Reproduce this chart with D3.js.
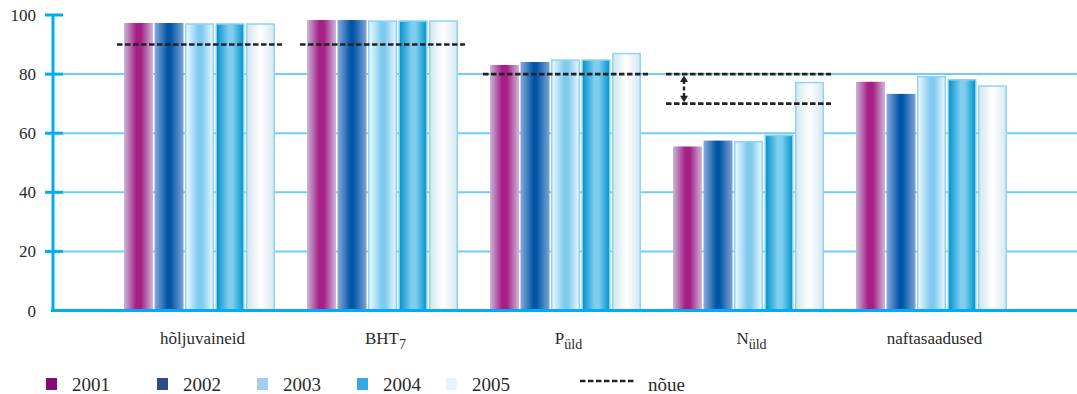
<!DOCTYPE html>
<html>
<head>
<meta charset="utf-8">
<script src="https://cdn.jsdelivr.net/npm/d3@7"></script>
<style>
  html, body { margin: 0; padding: 0; background: #fff; }
  svg { display: block; }
</style>
</head>
<body>
<svg id="chart" width="1077" height="394"></svg>
<script>
const labelMain = ["hõljuvaineid", "BHT", "P", "N", "naftasaadused"];
const labelSub  = ["", "7", "üld", "üld", ""];
const categories = labelMain.map((d, i) => d + labelSub[i]);
const years = ["2001", "2002", "2003", "2004", "2005"];
const v2001 = [97.3, 98.3, 83.1, 55.5, 77.4];
const v2002 = [97.3, 98.3, 84.1, 57.5, 73.3];
const v2003 = [97.2, 98.2, 85.0, 57.4, 79.4];
const v2004 = [97.2, 98.2, 85.0, 59.5, 78.3];
const v2005 = [97.2, 98.2, 87.2, 77.4, 76.2];
const noue = [[90], [90], [80], [70, 80], []];
const yTicks = [0, 20, 40, 60, 80, 100];
const legendNoue = "nõue";

const seriesValues = [v2001, v2002, v2003, v2004, v2005];
const FONT = "Liberation Serif, Tinos, Noto Serif, DejaVu Serif, FreeSerif, Times New Roman, Times, serif";
const textColor = "#2a2a2a";

const svg = d3.select("#chart");
const axisColor = "#00aeef";
const gridColor = "#72cef2";

const y = d3.scaleLinear().domain([0, 100]).range([310.5, 15]);
const x0 = d3.scaleBand().domain(categories).range([108, 1023]).paddingInner(0.175).paddingOuter(0.0875);
const x1 = d3.scaleBand().domain(years).range([0, x0.bandwidth()]).paddingInner(0.049).paddingOuter(0);

// gradients
const defs = svg.append("defs");
const gradStops = [
  [[0, "#c9b6da"], [0.42, "#a51f84"], [0.58, "#a51f84"], [1, "#cdb8db"]],
  [[0, "#88aadb"], [0.45, "#0056a6"], [0.55, "#0056a6"], [1, "#7ea2d6"]],
  [[0, "#f2fafe"], [0.45, "#7fcbef"], [0.6, "#7fcbef"], [1, "#eef8fd"]],
  [[0, "#0090cc"], [0.45, "#7fcdef"], [0.6, "#7fcdef"], [1, "#0094ce"]],
  [[0, "#d3e5ee"], [0.5, "#ffffff"], [1, "#d6e7f0"]]
];
const strokes = [null, null, "#8cd5f2", "#7fd0f1", "#8cd5f2"];
const legendColors = ["#880b7c", "#2f4a8a", "#a3cdf0", "#35a8e6", "#e8f3fb"];
gradStops.forEach((stops, i) => {
  const g = defs.append("linearGradient").attr("id", "g" + i)
    .attr("x1", "0").attr("x2", "1").attr("y1", "0").attr("y2", "0");
  stops.forEach(s => g.append("stop").attr("offset", s[0]).attr("stop-color", s[1]));
});

// gridlines
svg.append("g").selectAll("line")
  .data(yTicks.filter(t => t > 0 && t < 100))
  .join("line")
  .attr("x1", 53).attr("x2", 1077)
  .attr("y1", d => y(d)).attr("y2", d => y(d))
  .attr("stroke", gridColor).attr("stroke-width", 2);

// bars
const groups = svg.append("g").selectAll("g")
  .data(categories)
  .join("g")
  .attr("transform", d => `translate(${x0(d)},0)`);

groups.each(function(cat, ci) {
  const g = d3.select(this);
  years.forEach((yr, si) => {
    const v = seriesValues[si][ci];
    const st = strokes[si];
    const inset = st ? 0.75 : 0;
    g.append("rect")
      .attr("x", x1(yr) + inset)
      .attr("width", x1.bandwidth() - 2 * inset)
      .attr("y", y(v) + inset)
      .attr("height", y(0) - y(v) - inset)
      .attr("fill", `url(#g${si})`)
      .attr("stroke", st || "none")
      .attr("stroke-width", st ? 1.5 : 0);
  });
});

// requirement lines
const dashColor = "#222";
groups.each(function(cat, ci) {
  const g = d3.select(this);
  const levels = noue[ci];
  levels.forEach(lv => {
    g.append("line")
      .attr("x1", -7).attr("x2", x0.bandwidth() + 7)
      .attr("y1", y(lv)).attr("y2", y(lv))
      .attr("stroke", dashColor).attr("stroke-width", 2.6)
      .attr("stroke-dasharray", "5.5,2.5");
  });
  if (levels.length === 2) {
    const ax = 11;
    const top = y(d3.max(levels)), bot = y(d3.min(levels));
    g.append("line")
      .attr("x1", ax).attr("x2", ax)
      .attr("y1", top + 6).attr("y2", bot - 6)
      .attr("stroke", dashColor).attr("stroke-width", 2.4)
      .attr("stroke-dasharray", "4,2.5");
    g.append("path")
      .attr("d", `M${ax - 4},${top + 8} L${ax + 4},${top + 8} L${ax},${top + 1.5} Z`)
      .attr("fill", dashColor);
    g.append("path")
      .attr("d", `M${ax - 4},${bot - 8} L${ax + 4},${bot - 8} L${ax},${bot - 1.5} Z`)
      .attr("fill", dashColor);
  }
});

// axes
svg.append("line").attr("x1", 53).attr("x2", 53).attr("y1", y(100)).attr("y2", y(0) + 1.5)
  .attr("stroke", axisColor).attr("stroke-width", 3);
svg.append("line").attr("x1", 51).attr("x2", 1077).attr("y1", y(0)).attr("y2", y(0))
  .attr("stroke", axisColor).attr("stroke-width", 3);
svg.append("g").selectAll("line")
  .data(yTicks.filter(t => t > 0))
  .join("line")
  .attr("x1", 45).attr("x2", 63)
  .attr("y1", d => y(d)).attr("y2", d => y(d))
  .attr("stroke", axisColor).attr("stroke-width", 3);
svg.append("g").selectAll("text")
  .data(yTicks)
  .join("text")
  .attr("x", 36).attr("y", d => y(d) + 6)
  .attr("text-anchor", "end")
  .style("font-family", FONT).attr("fill", textColor)
  .attr("font-size", 17)
  .text(d => d);

// category labels
const labels = svg.append("g").selectAll("text")
  .data(categories)
  .join("text")
  .attr("x", d => x0(d) + x0.bandwidth() / 2 + 3)
  .attr("y", 344)
  .attr("text-anchor", "middle")
  .style("font-family", FONT).attr("fill", textColor)
  .attr("font-size", 17);
labels.each(function(d, i) {
  const t = d3.select(this);
  t.append("tspan").text(labelMain[i]);
  if (labelSub[i]) {
    t.append("tspan").attr("dy", 5).attr("font-size", 14).text(labelSub[i]);
  }
});

// legend
const legendX = [46, 157, 257, 357, 446];
const leg = svg.append("g");
years.forEach((yr, i) => {
  leg.append("rect").attr("x", legendX[i]).attr("y", 378).attr("width", 11).attr("height", 12)
    .attr("fill", legendColors[i]);
  leg.append("text").attr("x", legendX[i] + 26).attr("y", 391)
    .style("font-family", FONT).attr("fill", textColor)
    .attr("font-size", 19).text(yr);
});
leg.append("line").attr("x1", 580).attr("x2", 636).attr("y1", 381).attr("y2", 381)
  .attr("stroke", dashColor).attr("stroke-width", 2.6).attr("stroke-dasharray", "5.5,2.5");
leg.append("text").attr("x", 648).attr("y", 391)
  .style("font-family", FONT).attr("fill", textColor)
  .attr("font-size", 19).text(legendNoue);
</script>
</body>
</html>
